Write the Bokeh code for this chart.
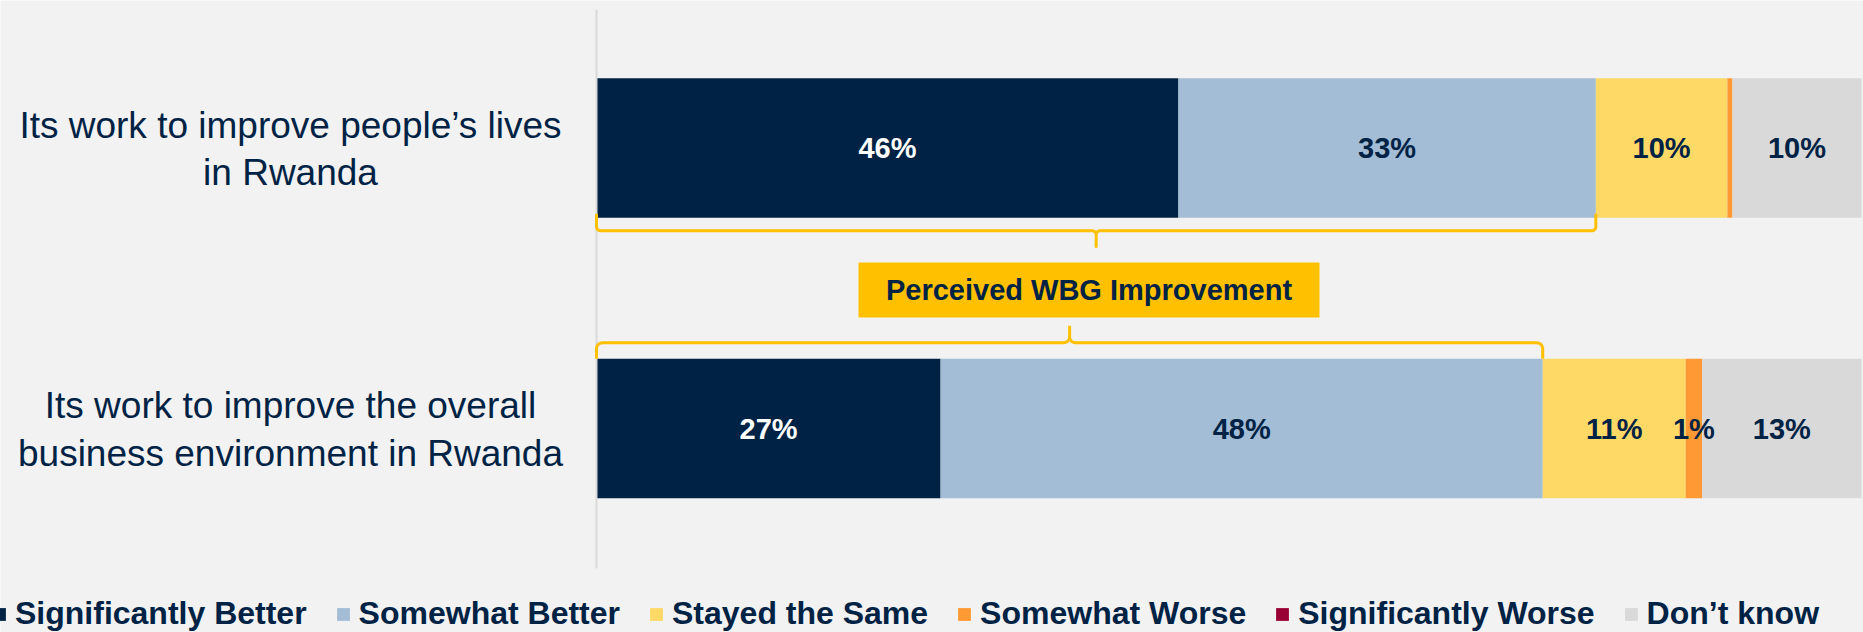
import numpy as np
from bokeh.plotting import figure
from bokeh.models import Range1d, ColumnDataSource, Legend, LegendItem
from bokeh.core.properties import value
from bokeh.embed import file_html
from bokeh.resources import INLINE

# ---------------- data ----------------
categories = [
    "Its work to improve people\u2019s lives\nin Rwanda",
    "Its work to improve the overall\nbusiness environment in Rwanda",
]
series = ["Significantly Better", "Somewhat Better", "Stayed the Same",
          "Somewhat Worse", "Significantly Worse", "Don\u2019t know"]
significantly_better = [46.0, 27.2]
somewhat_better = [33.0, 47.6]
stayed_the_same = [10.4, 11.3]
somewhat_worse = [0.4, 1.3]
significantly_worse = [0.0, 0.0]
dont_know = [10.2, 12.6]
callout_text = "Perceived WBG Improvement"

# ---------------- styles / layout ----------------
colors = ["#002345", "#A3BDD6", "#FFD966", "#FF9933", "#990033", "#D9D9D9"]
label_colors = ["#FFFFFF", "#002345", "#002345", "#002345", "#002345", "#002345"]
NAVY = "#002345"
GOLD = "#FFC000"
BG = "#F2F2F2"
FONT = "Liberation Sans"

W, H = 1863, 632
X0 = 596.0          # canvas px of 0%
PX = 12.65          # px per percent
ROW_Y = [147.5, 428.0]
BAR_H = 139.5

p = figure(width=W, height=H, output_backend="svg", toolbar_location=None, tools="",
           x_range=Range1d(-X0 / PX, (W - X0) / PX), y_range=Range1d(H, 0),
           x_axis_location=None, y_axis_location=None, min_border=0)
p.background_fill_color = BG
p.border_fill_color = BG
p.outline_line_color = None
p.xgrid.visible = False
p.ygrid.visible = False

keys = ["sb", "swb", "sts", "sww", "sgw", "dk"]
values = [significantly_better, somewhat_better, stayed_the_same,
          somewhat_worse, significantly_worse, dont_know]
src = ColumnDataSource(dict(y=ROW_Y, **{k: v for k, v in zip(keys, values)}))
renderers = p.hbar_stack(keys, y="y", height=BAR_H, color=colors, line_color=None, source=src)

# vertical axis line
p.segment(x0=[0], y0=[9], x1=[0], y1=[568], line_color="#D9D9D9", line_width=2)

# segment labels
lx, ly, lt, lc = [], [], [], []
for r in range(len(categories)):
    left = 0.0
    for i, vals in enumerate(values):
        v = vals[r]
        if round(v) >= 1:
            lx.append(left + v / 2)
            ly.append(ROW_Y[r])
            lt.append(f"{round(v)}%")
            lc.append(label_colors[i])
        left += v
p.text(x=lx, y=ly, text=lt, text_color=lc, text_align="center", text_baseline="middle",
       text_font=value(FONT), text_font_style="bold", text_font_size="29px")

# category labels
cat_x = (290 - X0) / PX
p.text(x=[cat_x] * len(categories), y=[y + 1 for y in ROW_Y], text=categories, text_align="center",
       text_baseline="middle", text_font=value(FONT), text_font_size="37px",
       text_color=NAVY, text_line_height=1.16)


# braces
def brace(x0, x1, y_end, y_line, y_tip, r=5.0):
    s = 1.0 if y_tip > y_line else -1.0   # direction of the tip
    xa, xb = X0 + x0 * PX, X0 + x1 * PX
    xm = (xa + xb) / 2
    t = np.linspace(0, np.pi / 2, 8)
    pts = [(xa, y_end), (xa, y_line - s * r)]
    pts += [(xa + r - r * np.cos(a), y_line - s * r + s * r * np.sin(a)) for a in t]
    pts += [(xm - r, y_line)]
    pts += [(xm - r + r * np.sin(a), y_line + s * r - s * r * np.cos(a)) for a in t]
    pts += [(xm, y_tip)]
    pts += [(xm + r - r * np.cos(a), y_line + s * r - s * r * np.sin(a)) for a in t]
    pts += [(xb - r, y_line)]
    pts += [(xb - r + r * np.sin(a), y_line - s * r + s * r * np.cos(a)) for a in t]
    pts += [(xb, y_end)]
    xs = [(px - X0) / PX for px, _ in pts]
    ys = [py for _, py in pts]
    return xs, ys


b1 = brace(0, significantly_better[0] + somewhat_better[0],
           ROW_Y[0] + BAR_H / 2 - 4, ROW_Y[0] + BAR_H / 2 + 13, ROW_Y[0] + BAR_H / 2 + 30, r=4)
b2 = brace(0, significantly_better[1] + somewhat_better[1],
           ROW_Y[1] - BAR_H / 2, ROW_Y[1] - BAR_H / 2 - 16, ROW_Y[1] - BAR_H / 2 - 33, r=6)
p.multi_line(xs=[b1[0], b2[0]], ys=[b1[1], b2[1]], line_color=GOLD, line_width=3)

# callout box
box_x = (1088.5 - X0) / PX
box_y = 289.5
p.rect(x=[box_x], y=[box_y], width=461, height=55, width_units="screen",
       height_units="screen", fill_color=GOLD, line_color=None)
p.text(x=[box_x], y=[box_y], text=[callout_text], text_align="center", text_baseline="middle",
       text_font=value(FONT), text_font_style="bold", text_font_size="29px", text_color=NAVY)

# legend
legend = Legend(items=[LegendItem(label=s, renderers=[rr]) for s, rr in zip(series, renderers)],
                orientation="horizontal", location=(-9, 0),
                label_text_font=FONT, label_text_font_size="32px", label_text_font_style="bold",
                label_text_color=NAVY, glyph_width=16, glyph_height=16, label_standoff=8,
                spacing=28, padding=0, margin=0, label_height=32,
                background_fill_alpha=0, border_line_color=None)
p.add_layout(legend)

html = file_html(p, INLINE, title="chart")
html = html.replace("<body>", '<body style="background-color:#F2F2F2;">', 1)
open("out.html", "w").write(html)
